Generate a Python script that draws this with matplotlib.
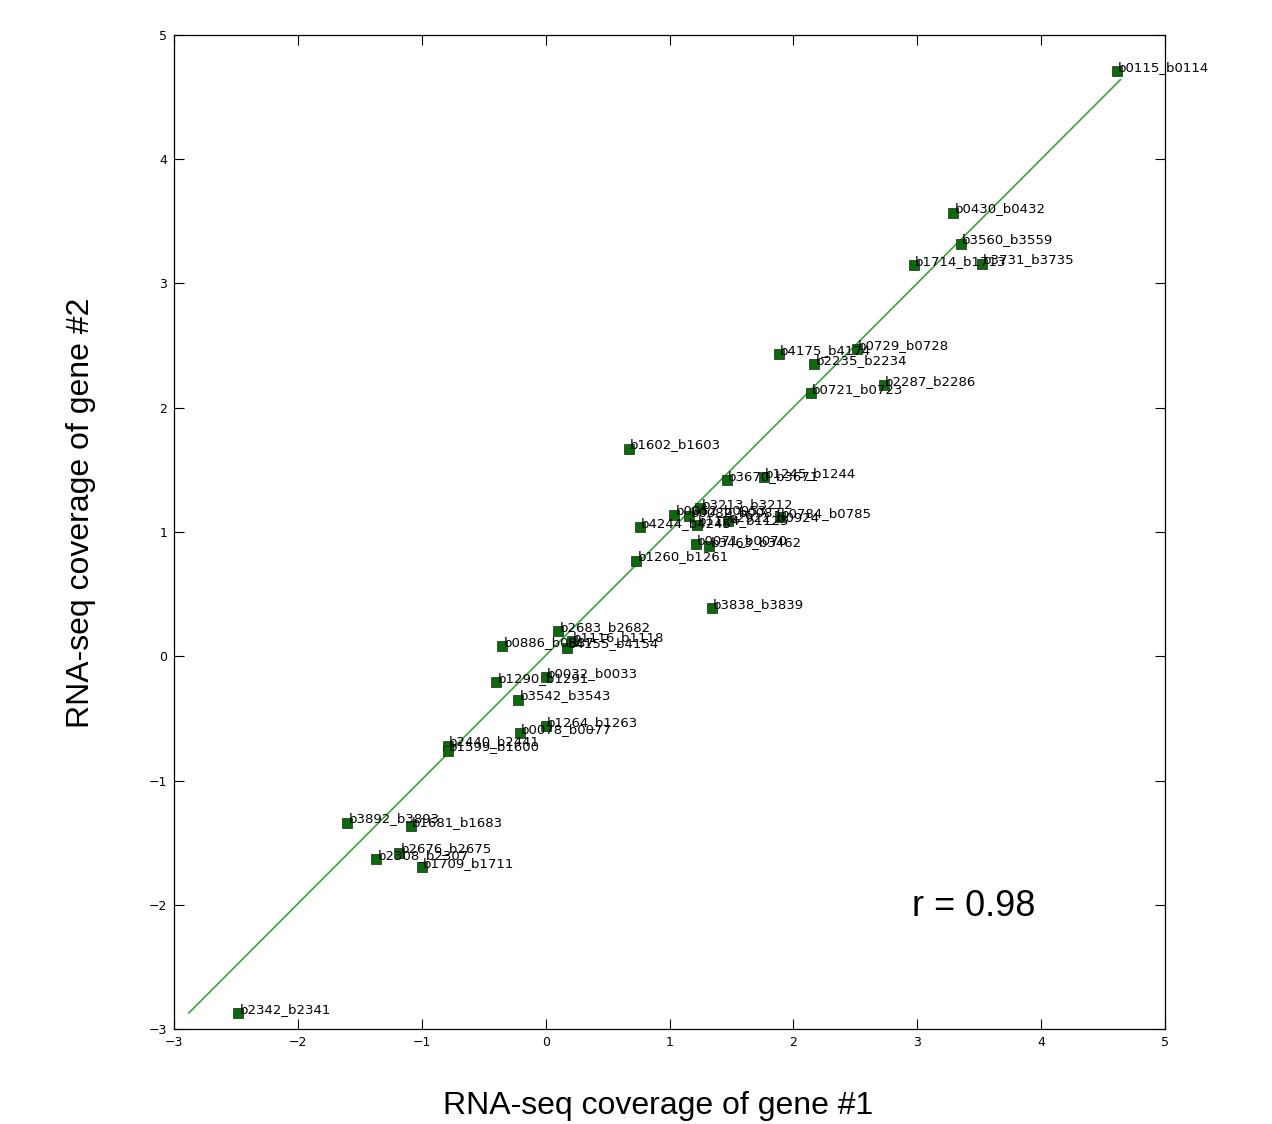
import numpy as np
import matplotlib
matplotlib.use("Agg")
import matplotlib.pyplot as plt

# ----------------------- data -----------------------
pair_names = [
    "b0115_b0114", "b0430_b0432", "b3560_b3559", "b1714_b1713", "b3731_b3735",
    "b4175_b4174", "b0729_b0728", "b2235_b2234", "b2287_b2286", "b0721_b0723",
    "b1602_b1603", "b3670_b3671", "b1245_b1244",
    "b0052_b0053", "b0082_b0083", "b3213_b3212", "b1124_b1125", "b2922_b0924",
    "b0784_b0785", "b4244_b4245", "b0071_b0070", "b3463_b3462", "b1260_b1261",
    "b3838_b3839", "b2683_b2682", "b0886_b0887", "b4155_b4154", "b1116_b1118",
    "b0032_b0033", "b1290_b1291", "b3542_b3543", "b1264_b1263", "b0078_b0077",
    "b2440_b2441", "b1599_b1600", "b3892_b3893", "b1681_b1683", "b2676_b2675",
    "b2308_b2307", "b1709_b1711", "b2342_b2341",
]
cov_gene1 = [
    4.61, 3.29, 3.35, 2.97, 3.52,
    1.88, 2.51, 2.17, 2.73, 2.14,
    0.67, 1.46, 1.76,
    1.04, 1.16, 1.25, 1.22, 1.47,
    1.89, 0.76, 1.21, 1.32, 0.73,
    1.34, 0.10, -0.35, 0.17, 0.21,
    0.00, -0.40, -0.22, 0.00, -0.21,
    -0.79, -0.79, -1.60, -1.09, -1.18,
    -1.37, -1.00, -2.48,
]
cov_gene2 = [
    4.71, 3.57, 3.32, 3.15, 3.16,
    2.43, 2.47, 2.35, 2.18, 2.12,
    1.67, 1.42, 1.44,
    1.14, 1.13, 1.19, 1.06, 1.09,
    1.12, 1.04, 0.90, 0.885, 0.77,
    0.39, 0.20, 0.08, 0.07, 0.12,
    -0.17, -0.21, -0.35, -0.56, -0.62,
    -0.72, -0.76, -1.34, -1.37, -1.58,
    -1.63, -1.70, -2.87,
]
fit_x = [-2.88, 4.64]
fit_y = [-2.87, 4.64]
r_value = 0.98

# ----------------------- plot -----------------------
fig = plt.figure(figsize=(12.72, 11.24), dpi=100)
ax = fig.add_axes([0.1368, 0.0845, 0.7791, 0.8844])

ax.plot(fit_x, fit_y, color="#3f9f3f", lw=1.2, zorder=1)
ax.plot(cov_gene1, cov_gene2, "s", color="#0b6b0b", mec="black", mew=0.4,
        ms=7.5, ls="none", zorder=2)

for name, x, y in zip(pair_names, cov_gene1, cov_gene2):
    ax.annotate(name, (x, y), xytext=(1, -2), textcoords="offset points",
                fontsize=9.5, ha="left", va="bottom", zorder=3)

ax.text(2.96, -2.01, f"r = {r_value:.2f}", fontsize=26, va="center",
        family="Liberation Sans")

ax.set_xlim(-3, 5)
ax.set_ylim(-3, 5)
ax.set_xticks(range(-3, 6))
ax.set_yticks(range(-3, 6))
ax.tick_params(direction="in", top=True, right=True, labelsize=9, length=7,
               pad=5)
for s in ax.spines.values():
    s.set_linewidth(0.9)

ax.set_xlabel("RNA-seq coverage of gene #1", fontsize=23,
              family="Liberation Sans", labelpad=30)
ax.set_ylabel("RNA-seq coverage of gene #2", fontsize=23,
              family="Liberation Sans", labelpad=38)
# labels sit a bit off-centre in the original
ax.xaxis.label.set_x(0.488)
ax.yaxis.label.set_y(0.519)

plt.savefig("out.png", dpi=100)
